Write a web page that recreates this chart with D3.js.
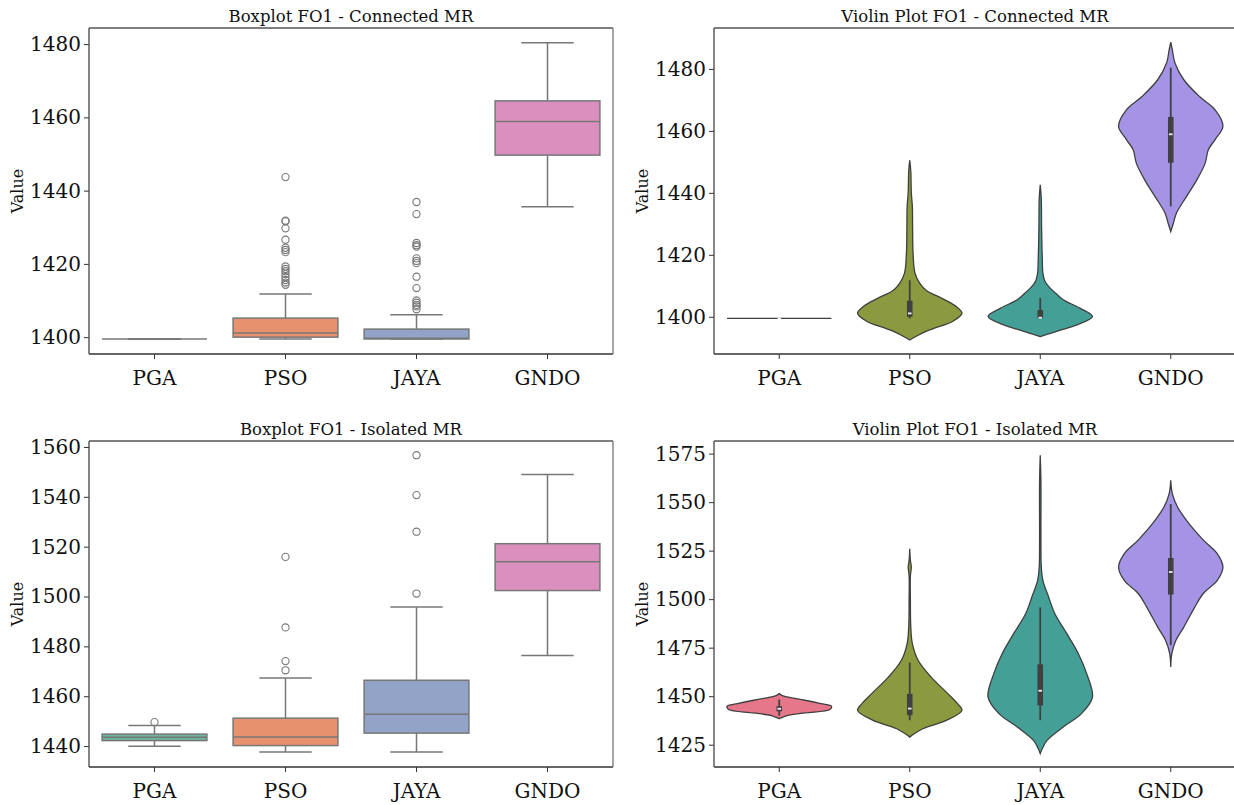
<!DOCTYPE html>
<head>
  <meta charset="utf-8">
  <style>
    body { margin: 0; background: #fff; }
    svg text { font-family: "DejaVu Serif", serif; fill: #111; }
    .axis text { font-size: 20px; }
    .axis line { stroke: #333; }
  </style>
  <script src="https://cdn.jsdelivr.net/npm/d3@7/dist/d3.min.js"></script>
</head>
<body>
<script>

const categories = ['PGA', 'PSO', 'JAYA', 'GNDO'];
const boxColors = ['#6db89c', '#e8916f', '#93a3c7', '#db8fbf'];
const violinColors = ['#e6768a', '#8b9a3f', '#44a096', '#a594e5'];

// [whisker low, q1, median, q3, whisker high]
const connectedStats = [
  [1399.5, 1399.5, 1399.5, 1399.5, 1399.5],
  [1399.5, 1400.0, 1401.1, 1405.2, 1411.8],
  [1399.5, 1399.5, 1399.7, 1402.2, 1406.1],
  [1435.6, 1449.7, 1458.9, 1464.5, 1480.4]
];
const connectedOutliers = [
  [],
  [1443.7, 1431.8, 1431.6, 1429.7, 1426.6, 1424.4, 1423.8, 1423.2, 1419.3,
   1418.6, 1418.0, 1417.2, 1416.4, 1415.6, 1414.9, 1414.3],
  [1436.9, 1433.6, 1425.7, 1425.1, 1424.7, 1421.5, 1420.8, 1420.2, 1416.5,
   1413.4, 1410.0, 1409.4, 1408.8, 1408.4, 1407.6],
  []
];
const isolatedStats = [
  [1439.9, 1442.2, 1443.5, 1444.8, 1448.3],
  [1437.6, 1440.2, 1443.6, 1451.2, 1467.3],
  [1437.6, 1445.2, 1452.8, 1466.4, 1495.8],
  [1476.3, 1502.4, 1514.0, 1521.2, 1549.0]
];
const isolatedOutliers = [
  [1449.6],
  [1470.4, 1474.1, 1487.6, 1515.9],
  [1501.2, 1526.0, 1540.7, 1556.7],
  []
];

// violin density profiles: [value, relative half width]
const connectedDensity = [
  [[1399.5, 1], [1399.5, 1]],
  [[1450.5, 0], [1447, 0.02], [1440, 0.03], [1435.6, 0.05], [1428, 0.055], [1420, 0.065],
   [1414.1, 0.1], [1410.9, 0.19], [1408.5, 0.32], [1406.5, 0.55], [1404.8, 0.75],
   [1403.3, 0.89], [1401.2, 1.0], [1398.5, 0.82], [1396.5, 0.5], [1395.2, 0.3],
   [1393.5, 0.1], [1392.5, 0]],
  [[1442.6, 0], [1438, 0.02], [1430, 0.025], [1424.8, 0.03], [1418, 0.04], [1414.1, 0.05],
   [1411.5, 0.09], [1409.8, 0.16], [1407.5, 0.3], [1405.5, 0.44], [1402.8, 0.76],
   [1400.1, 1.0], [1397.4, 0.7], [1396, 0.45], [1395.2, 0.3], [1394.2, 0.1], [1393.6, 0]],
  [[1488.6, 0], [1486.2, 0.03], [1481.9, 0.08], [1476.5, 0.25], [1471.1, 0.55],
   [1466.8, 0.85], [1461.5, 1.0], [1457.2, 0.85], [1453.9, 0.72], [1449.6, 0.66],
   [1444.2, 0.5], [1438.8, 0.3], [1433.5, 0.11], [1430.2, 0.05], [1427.5, 0]]
];
const isolatedDensity = [
  [[1451.3, 0], [1450.3, 0.06], [1449.6, 0.15], [1447.9, 0.49], [1446.1, 0.8],
   [1444.8, 1.0], [1443.1, 0.97], [1441.4, 0.5], [1440, 0.15], [1438.4, 0]],
  [[1526, 0], [1520, 0.012], [1516.5, 0.03], [1512, 0.012], [1500, 0.012], [1485.6, 0.02],
   [1477.1, 0.05], [1468.5, 0.16], [1459.8, 0.41], [1451.3, 0.73], [1446, 0.92],
   [1442.7, 1.0], [1437.5, 0.7], [1433.2, 0.25], [1430.5, 0.08], [1428.9, 0]],
  [[1574.1, 0], [1560, 0.013], [1530, 0.013], [1516.5, 0.02], [1509.7, 0.05],
   [1501.1, 0.16], [1492.5, 0.28], [1482.2, 0.51], [1471.9, 0.73], [1461.6, 0.89],
   [1449.5, 1.0], [1441, 0.79], [1434.1, 0.44], [1427.2, 0.13], [1423, 0.04], [1420.4, 0]],
  [[1561.2, 0], [1554.4, 0.03], [1547.5, 0.13], [1538.9, 0.35], [1530.3, 0.63],
   [1523.5, 0.89], [1516.5, 1.0], [1509.7, 0.89], [1502.8, 0.62], [1495.9, 0.46],
   [1485.6, 0.25], [1478.8, 0.1], [1471.9, 0.02], [1465, 0]]
];

const connectedBoxTicks = [1400, 1420, 1440, 1460, 1480];
const connectedViolinTicks = [1400, 1420, 1440, 1460, 1480];
const isolatedBoxTicks = [1440, 1460, 1480, 1500, 1520, 1540, 1560];
const isolatedViolinTicks = [1425, 1450, 1475, 1500, 1525, 1550, 1575];

const W = 1234, H = 805;
const svg = d3.select('body').append('svg')
  .attr('width', W)
  .attr('height', H);

const panels = [
  { title: 'Boxplot FO1 - Connected MR', kind: 'box', x0: 89, x1: 613, y0: 28, y1: 354,
    domain: [1395.4, 1484.4], ticks: connectedBoxTicks, stats: connectedStats, outliers: connectedOutliers },
  { title: 'Violin Plot FO1 - Connected MR', kind: 'violin', x0: 714, x1: 1236, y0: 28, y1: 354,
    domain: [1388, 1493.2], ticks: connectedViolinTicks, stats: connectedStats, density: connectedDensity },
  { title: 'Boxplot FO1 - Isolated MR', kind: 'box', x0: 89, x1: 613, y0: 441, y1: 767,
    domain: [1431.6, 1562.4], ticks: isolatedBoxTicks, stats: isolatedStats, outliers: isolatedOutliers },
  { title: 'Violin Plot FO1 - Isolated MR', kind: 'violin', x0: 714, x1: 1236, y0: 441, y1: 767,
    domain: [1413.5, 1581.5], ticks: isolatedViolinTicks, stats: isolatedStats, density: isolatedDensity }
];

panels.forEach(p => {
  const g = svg.append('g');
  const x = d3.scaleBand().domain(categories).range([p.x0, p.x1]).padding(0);
  const y = d3.scaleLinear().domain(p.domain).range([p.y1, p.y0]);
  const bw = x.bandwidth();
  const cx = (c) => x(c) + bw / 2;

  if (p.kind === 'box') {
    categories.forEach((c, i) => {
      const [lo, q1, med, q3, hi] = p.stats[i];
      const half = bw * 0.4, cap = bw * 0.2;
      const bg = g.append('g').attr('stroke', '#777').attr('stroke-width', 1.5);
      bg.append('line').attr('x1', cx(c)).attr('x2', cx(c)).attr('y1', y(q3)).attr('y2', y(hi));
      bg.append('line').attr('x1', cx(c)).attr('x2', cx(c)).attr('y1', y(q1)).attr('y2', y(lo));
      bg.append('line').attr('x1', cx(c) - cap).attr('x2', cx(c) + cap).attr('y1', y(hi)).attr('y2', y(hi));
      bg.append('line').attr('x1', cx(c) - cap).attr('x2', cx(c) + cap).attr('y1', y(lo)).attr('y2', y(lo));
      bg.append('rect')
        .attr('x', cx(c) - half).attr('width', half * 2)
        .attr('y', y(q3)).attr('height', Math.max(0, y(q1) - y(q3)))
        .attr('fill', boxColors[i]);
      bg.append('line').attr('x1', cx(c) - half).attr('x2', cx(c) + half).attr('y1', y(med)).attr('y2', y(med));
      bg.selectAll('circle')
        .data(p.outliers[i])
        .enter()
        .append('circle')
        .attr('cx', cx(c))
        .attr('cy', d => y(d))
        .attr('r', 3.6)
        .attr('fill', 'none')
        .attr('stroke-width', 1.1);
    });
  } else {
    categories.forEach((c, i) => {
      const prof = p.density[i];
      const half = bw * 0.4;
      const area = d3.area()
        .x0(d => cx(c) - d[1] * half)
        .x1(d => cx(c) + d[1] * half)
        .y(d => y(d[0]))
        .curve(prof.length < 3 ? d3.curveLinear : d3.curveCatmullRom.alpha(0.5));
      g.append('path')
        .attr('d', area(prof))
        .attr('fill', violinColors[i])
        .attr('stroke', '#3f3f3f')
        .attr('stroke-width', 1.3);
      const [lo, q1, med, q3, hi] = p.stats[i];
      g.append('line')
        .attr('x1', cx(c)).attr('x2', cx(c))
        .attr('y1', y(lo)).attr('y2', y(hi))
        .attr('stroke', '#404040').attr('stroke-width', 1.8);
      g.append('rect')
        .attr('x', cx(c) - 2.8).attr('width', 5.6)
        .attr('y', y(q3)).attr('height', y(q1) - y(q3))
        .attr('fill', '#404040');
      g.append('rect')
        .attr('x', cx(c) - 1.8).attr('width', 3.6)
        .attr('y', y(med) - 0.9).attr('height', 1.8)
        .attr('fill', '#eee');
    });
  }

  // axes
  const yAxis = d3.axisLeft(y).tickValues(p.ticks).tickFormat(d3.format('d'))
    .tickSize(5).tickSizeOuter(0).tickPadding(3);
  g.append('g')
    .attr('class', 'axis')
    .attr('transform', `translate(${p.x0},0)`)
    .call(yAxis)
    .call(s => s.select('.domain').remove());

  const xAxis = d3.axisBottom(x).tickSize(5).tickSizeOuter(0).tickPadding(12);
  g.append('g')
    .attr('class', 'axis')
    .attr('transform', `translate(0,${p.y1})`)
    .call(xAxis)
    .call(s => s.select('.domain').remove());

  // frame
  const fr = g.append('g').attr('fill', 'none');
  fr.append('line').attr('x1', p.x0).attr('x2', p.x1).attr('y1', p.y1).attr('y2', p.y1).attr('stroke', '#333').attr('stroke-width', 1.3);
  fr.append('line').attr('x1', p.x0).attr('x2', p.x0).attr('y1', p.y0).attr('y2', p.y1).attr('stroke', '#444').attr('stroke-width', 1.3);
  fr.append('line').attr('x1', p.x0).attr('x2', p.x1).attr('y1', p.y0).attr('y2', p.y0).attr('stroke', '#555').attr('stroke-width', 1.3);
  fr.append('line').attr('x1', p.x1).attr('x2', p.x1).attr('y1', p.y0).attr('y2', p.y1).attr('stroke', '#777').attr('stroke-width', 1.3);

  g.append('text')
    .attr('x', (p.x0 + p.x1) / 2)
    .attr('y', p.y0 - 6)
    .attr('text-anchor', 'middle')
    .attr('font-size', '16.5px')
    .text(p.title);

  g.append('text')
    .attr('transform', `translate(${p.x0 - 66},${(p.y0 + p.y1) / 2}) rotate(-90)`)
    .attr('text-anchor', 'middle')
    .attr('font-size', '16px')
    .text('Value');
});

</script>
</body>
